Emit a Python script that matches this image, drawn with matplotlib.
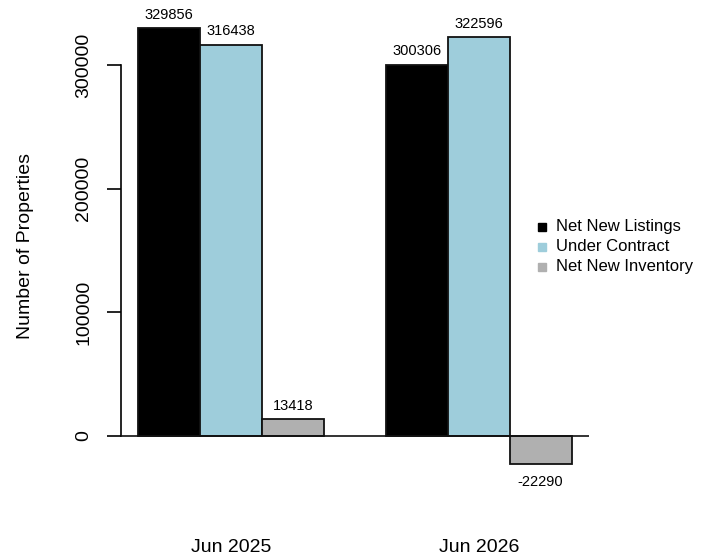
import matplotlib
matplotlib.use("Agg")
import matplotlib.pyplot as plt
from matplotlib.lines import Line2D

plt.rcParams['font.family'] = ['Liberation Sans', 'DejaVu Sans']

groups = ["Jun 2025", "Jun 2026"]
series_names = ["Net New Listings", "Under Contract", "Net New Inventory"]
net_new_listings = [329856, 300306]
under_contract = [316438, 322596]
net_new_inventory = [13418, -22290]
series_values = [net_new_listings, under_contract, net_new_inventory]
colors = ["#000000", "#9ECDDB", "#B0B0B0"]
y_ticks = [0, 100000, 200000, 300000]

W, H = 712, 558
fig = plt.figure(figsize=(W / 100, H / 100), dpi=100)

# plot region in pixels
left_px, right_px = 120.6, 589.0
top_px, bot_px = 10.7, 481.0
ax = fig.add_axes([left_px / W, 1 - bot_px / H, (right_px - left_px) / W, (bot_px - top_px) / H])

ax.set_xlim(0.72, 8.28)
ax.set_ylim(-36376, 343942)

for j, (vals, col) in enumerate(zip(series_values, colors)):
    xs = [1 + 4 * i + j + 0.5 for i in range(len(groups))]
    ax.bar(xs, vals, width=1.0, color=col, edgecolor="#111111", linewidth=1.3, zorder=2)
    for x, v in zip(xs, vals):
        if v >= 0:
            ax.annotate(str(v), (x, v), xytext=(0, 4.5), textcoords="offset points",
                        ha="center", va="bottom", fontsize=10.5)
        else:
            ax.annotate(str(v), (x, v), xytext=(0, -8), textcoords="offset points",
                        ha="center", va="top", fontsize=10.5)

ax.axhline(0, color="#111111", linewidth=1.2, zorder=3)

for s in ["top", "right", "bottom"]:
    ax.spines[s].set_visible(False)
ax.spines["left"].set_bounds(0, 300000)
ax.spines["left"].set_linewidth(1.2)
ax.set_yticks(y_ticks)
ax.set_yticklabels([str(t) for t in y_ticks], rotation=90, va="center", fontsize=14)
ax.tick_params(axis="y", length=10, width=1.2, pad=10.5)
ax.set_xticks([])
ax.set_ylabel("Number of Properties", fontsize=14)
ax.yaxis.set_label_coords(-(left_px - 34) / (right_px - left_px), 0.5)

# group labels below
for i, g in enumerate(groups):
    xc = 1 + 4 * i + 1.5
    ax.annotate(g, (xc, 0), xycoords=("data", "axes fraction"), xytext=(0, -67),
                textcoords="offset pixels", ha="center", va="center", fontsize=14)

# legend
for k, (name, col) in enumerate(zip(series_names, colors)):
    yp = 226.5 + 20.2 * k
    fig.add_artist(Line2D([541.5 / W], [1 - yp / H], marker="s", markersize=6,
                          color=col, linestyle="none", transform=fig.transFigure))
    fig.text(556.5 / W, 1 - yp / H, name, ha="left", va="center", fontsize=12)

fig.savefig("out.png", dpi=100)
